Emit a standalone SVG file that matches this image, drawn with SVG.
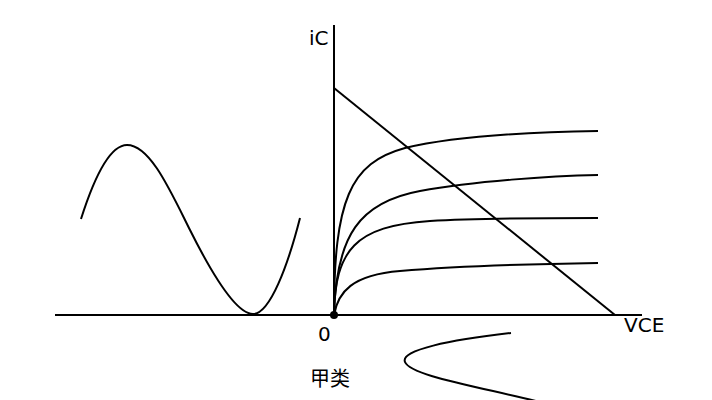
<svg xmlns="http://www.w3.org/2000/svg" width="712" height="400" viewBox="0 0 712 400">
<style>
.ln{fill:none;stroke:#000;stroke-width:2}
.t{font-family:"DejaVu Sans","Noto Sans CJK SC",sans-serif;font-size:20px;fill:#000}
</style>
<rect width="712" height="400" fill="#fff"/>
<g id="axes">
<line class="ln" x1="55" y1="315" x2="642" y2="315"/>
<line class="ln" x1="334" y1="25" x2="334" y2="315"/>
<circle cx="334" cy="315" r="4" fill="#000"/>
</g>
<g id="loadline">
<line class="ln" x1="334" y1="88" x2="615" y2="315"/>
</g>
<g id="curves">
<path class="ln" d="M334,315 C334,200 350,163 405,148 C455,136 530,132 598,131"/>
<path class="ln" d="M334,315 C336,235 360,202 420,191 C475,181 550,176 598,175"/>
<path class="ln" d="M334,315 C335,250 355,226 430,221 C480,218 540,218 598,218"/>
<path class="ln" d="M334,315 C338,292 352,275 400,271 C460,266 530,264 598,263"/>
</g>
<g id="input-wave">
<path class="ln" d="M81,219 C95,175 110,145 127,145 C150,145 170,190 190,230 C210,270 235,314 253,314 C270,314 288,265 300,218"/>
</g>
<g id="output-wave">
<path class="ln" d="M511,333 C450,340 400,350 405,362 C410,375 470,385 540,402"/>
</g>
<g id="labels">
<text class="t" x="309" y="45">iC</text>
<text class="t" x="624" y="332">VCE</text>
<text class="t" x="318" y="341">0</text>
<text class="t" x="310" y="386">甲类</text>
</g>
</svg>
